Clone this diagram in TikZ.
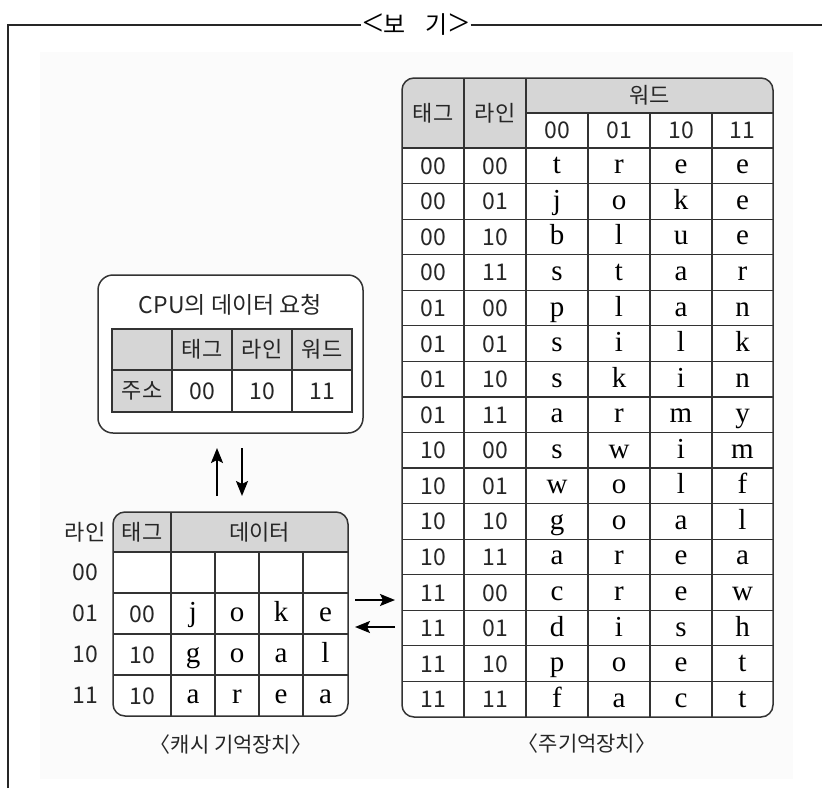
\documentclass[tikz,border=0pt]{standalone}
\usepackage{fontspec}
\setmainfont{Noto Sans CJK KR}
\newfontfamily\ser{Liberation Serif}
\usetikzlibrary{arrows.meta}
\definecolor{ln}{HTML}{333333}
\definecolor{hd}{HTML}{D6D6D6}
\definecolor{bgc}{HTML}{FBFBFB}
\begin{document}
\begin{tikzpicture}[x=1pt,y=-1pt,
  gridln/.style={draw=ln, line width=1.2pt},
  outer/.style={draw=ln, line width=1.5pt},
  frameln/.style={draw=black!85, line width=1.8pt},
  dig/.style={font=\fontsize{23}{23}\selectfont, inner sep=0pt, text=black!85},
  letr/.style={font=\ser\fontsize{29}{29}\selectfont, inner sep=0pt},
  kor/.style={font=\fontsize{22}{22}\selectfont, inner sep=0pt, text=black!85},
  lbl/.style={font=\fontsize{21}{21}\selectfont, inner sep=0pt, text=black!85},
  arr/.style={line width=2.2pt, -{Stealth[length=15pt,width=12pt,inset=3pt]}}]
\useasboundingbox (0,0) rectangle (822,788);
% background
\fill[bgc] (40,52) rectangle (793,779);
% frame and title
\node[inner sep=1pt] (title) at (416,25) {{\ser\fontsize{38}{38}\selectfont\raisebox{-2pt}{<}}{\fontsize{24}{24}\selectfont 보\hspace{20pt}기}{\ser\fontsize{38}{38}\selectfont\raisebox{-2pt}{>}}};
\draw[frameln] (8,788) -- (8,25) -- (title.west);
\draw[frameln] (title.east) -- (822,25);

% ===== main memory =====
\fill[white, rounded corners=12] (402,78) rectangle (773,717);
\begin{scope}
  \clip[rounded corners=12] (402,78) rectangle (773,717);
  \fill[hd] (402,78) rectangle (526,148);
  \fill[hd] (526,78) rectangle (773,113);
\end{scope}
\draw[gridln] (526,113) -- (773,113);
\foreach \k in {0,...,15} \draw[gridln] (402,148+\k*35.5625) -- (773,148+\k*35.5625);
\draw[gridln] (464,78) -- (464,717);
\draw[gridln] (526,78) -- (526,717);
\foreach \xx in {588,650,712} \draw[gridln] (\xx,113) -- (\xx,717);
\draw[outer, rounded corners=12] (402,78) rectangle (773,717);
\node[kor] (mh-tag) at (433,113) {태그};
\node[kor] (mh-line) at (495,113) {라인};
\node[kor] (mh-word) at (649.5,95.5) {워드};
\node[dig] (mh-w0) at (557,130.5) {00};
\node[dig] (mh-w1) at (619,130.5) {01};
\node[dig] (mh-w2) at (681,130.5) {10};
\node[dig] (mh-w3) at (742.5,130.5) {11};
\foreach [count=\i] \zT/\zL/\zA/\zB/\zC/\zD in {
  00/00/t/r/e/e, 00/01/j/o/k/e, 00/10/b/l/u/e, 00/11/s/t/a/r,
  01/00/p/l/a/n, 01/01/s/i/l/k, 01/10/s/k/i/n, 01/11/a/r/m/y,
  10/00/s/w/i/m, 10/01/w/o/l/f, 10/10/g/o/a/l, 10/11/a/r/e/a,
  11/00/c/r/e/w, 11/01/d/i/s/h, 11/10/p/o/e/t, 11/11/f/a/c/t} {
  \pgfmathsetmacro\yc{148+(\i-0.5)*35.5625}
  \node[dig, anchor=base] (m\i-t) at (433,\yc+8.5) {\zT};
  \node[dig, anchor=base] (m\i-l) at (495,\yc+8.5) {\zL};
  \node[letr, anchor=base] (m\i-a) at (557,\yc+8) {\zA};
  \node[letr, anchor=base] (m\i-b) at (619,\yc+8) {\zB};
  \node[letr, anchor=base] (m\i-c) at (681,\yc+8) {\zC};
  \node[letr, anchor=base] (m\i-d) at (742.5,\yc+8) {\zD};
}
\node[lbl] (memlabel) at (587,744) {〈주기억장치〉};

% ===== CPU request =====
\draw[outer, fill=white, rounded corners=15] (98,275) rectangle (363,433);
\node[kor, font=\fontsize{23}{23}\selectfont] (cputitle) at (230.5,305) {CPU의 데이터 요청};
\fill[hd] (112,329) rectangle (352,370);
\fill[hd] (112,370) rectangle (172,412);
\draw[gridln] (112,329) rectangle (352,412);
\draw[gridln] (112,370) -- (352,370);
\foreach \xx in {172,232,292} \draw[gridln] (\xx,329) -- (\xx,412);
\node[kor] (c-tag) at (202,349.5) {태그};
\node[kor] (c-line) at (262,349.5) {라인};
\node[kor] (c-word) at (322,349.5) {워드};
\node[kor] (c-addr) at (142,391) {주소};
\node[dig] (c-v1) at (202,391) {00};
\node[dig] (c-v2) at (262,391) {10};
\node[dig] (c-v3) at (322,391) {11};

% ===== cache =====
\fill[white, rounded corners=12] (113,512) rectangle (348,716);
\begin{scope}
  \clip[rounded corners=12] (113,512) rectangle (348,716);
  \fill[hd] (113,512) rectangle (348,552);
\end{scope}
\foreach \yy in {552,593,634,675} \draw[gridln] (113,\yy) -- (348,\yy);
\draw[gridln] (171,512) -- (171,716);
\foreach \xx in {215,259,303} \draw[gridln] (\xx,552) -- (\xx,716);
\draw[outer, rounded corners=12] (113,512) rectangle (348,716);
\node[kor] (k-tag) at (142,532) {태그};
\node[kor] (k-data) at (259.5,532) {데이터};
\node[kor] (k-line) at (85,532) {라인};
\node[dig] (k-r0) at (85,572.5) {00};
\node[dig] (k-r1) at (85,613.5) {01};
\node[dig] (k-r2) at (85,654.5) {10};
\node[dig] (k-r3) at (85,695.5) {11};
\foreach [count=\i] \zT/\zA/\zB/\zC/\zD/\yc in {00/j/o/k/e/613.5, 10/g/o/a/l/654.5, 10/a/r/e/a/695.5} {
  \node[dig, anchor=base] (k\i-t) at (142,\yc+8.5) {\zT};
  \node[letr, anchor=base] (k\i-a) at (193,\yc+8) {\zA};
  \node[letr, anchor=base] (k\i-b) at (237,\yc+8) {\zB};
  \node[letr, anchor=base] (k\i-c) at (281,\yc+8) {\zC};
  \node[letr, anchor=base] (k\i-d) at (325.5,\yc+8) {\zD};
}
\node[lbl] (cachelabel) at (231,745) {〈캐시 기억장치〉};

% ===== arrows =====
\coordinate (u1) at (217,496);
\coordinate (u2) at (217,448);
\coordinate (d1) at (242,448);
\coordinate (d2) at (242,496);
\draw[arr] (u1) -- (u2);
\draw[arr] (d1) -- (d2);
\coordinate (r1) at (355,600);
\coordinate (r2) at (395,600);
\coordinate (l1) at (395,627);
\coordinate (l2) at (355,627);
\draw[arr] (r1) -- (r2);
\draw[arr] (l1) -- (l2);
\end{tikzpicture}
\end{document}
